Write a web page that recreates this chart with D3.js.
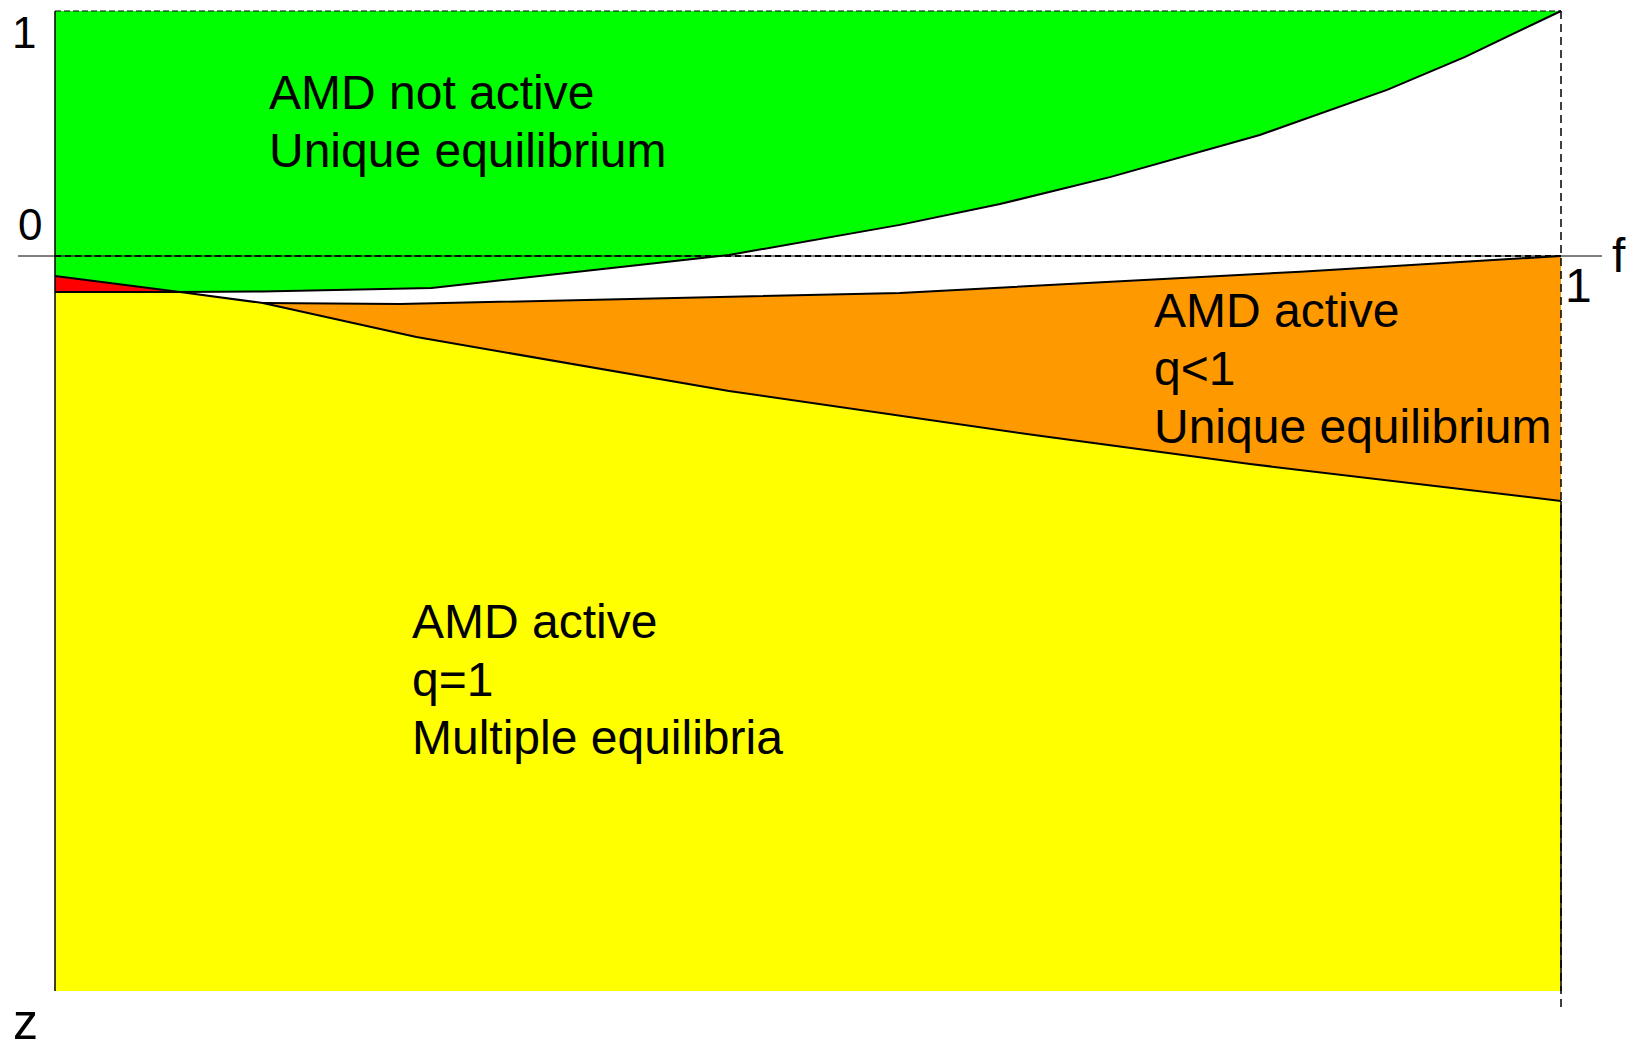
<!DOCTYPE html>
<html>
<head>
<meta charset="utf-8">
<script src="https://cdn.jsdelivr.net/npm/d3@7"></script>
<style>
  html, body { margin: 0; padding: 0; background: #ffffff; }
  svg { display: block; }
  text { font-family: "Liberation Sans", Arial, sans-serif; fill: #000; }
</style>
</head>
<body>
<svg id="chart" width="1634" height="1044"></svg>
<script>
// ---- data (f on horizontal axis, vertical value: 1 at top, 0 on the f axis, -3 at the bottom) ----
// lower boundary of the green region "AMD not active"
const greenF = [0, 0.083, 0.138, 0.250, 0.4475, 0.561, 0.6275, 0.7005, 0.800, 0.8845, 0.936, 1.0];
const greenZ = [-0.082, -0.147, -0.145, -0.131, 0.004, 0.127, 0.212, 0.322, 0.494, 0.678, 0.812, 1.0];
// boundary between yellow (below) and red / orange (above)
const yellowF = [0, 0.083, 0.138, 0.240, 0.4475, 0.655, 0.7935, 1.0];
const yellowZ = [-0.147, -0.147, -0.192, -0.331, -0.551, -0.735, -0.849, -1.0];
// upper boundary of the orange region
const orangeF = [0.138, 0.229, 0.561, 0.827, 1.0];
const orangeZ = [-0.192, -0.196, -0.151, -0.064, 0.0];
// red sliver
const redF = [0, 0.083, 0];
const redZ = [-0.082, -0.147, -0.147];

const fDomain = [0, 1];
const zDomain = [-3, 1];
const zTickLabels = ["1", "0"];
const zTickValues = [1, 0];
const fTickLabels = ["1"];
const fTickValues = [1];
const axisNames = ["f", "z"];

const greenText = ["AMD not active", "Unique equilibrium"];
const orangeText = ["AMD active", "q<1", "Unique equilibrium"];
const yellowText = ["AMD active", "q=1", "Multiple equilibria"];

// ---- layout ----
const svg = d3.select("#chart");
const x = d3.scaleLinear().domain(fDomain).range([55, 1561]);
const y = d3.scaleLinear().domain(zDomain).range([991, 11]);

const zip = (a, b) => a.map((v, i) => [v, b[i]]);
const green = zip(greenF, greenZ);
const yellowB = zip(yellowF, yellowZ);
const orangeT = zip(orangeF, orangeZ);
const red = zip(redF, redZ);

const line = d3.line().x(d => x(d[0])).y(d => y(d[1]));
const poly = pts => line(pts) + "Z";

const COL = { green: "#00ff00", red: "#ff0000", orange: "#ff9900", yellow: "#ffff00" };

// green region: top edge at z=1 then along the boundary
const greenPoly = [[fDomain[0], zDomain[1]], ...green];
svg.append("path").attr("d", poly(greenPoly)).attr("fill", COL.green);

// yellow region
const yellowPoly = [[fDomain[0], zDomain[0]], ...yellowB, [fDomain[1], zDomain[0]]];
svg.append("path").attr("d", poly(yellowPoly)).attr("fill", COL.yellow);

// orange region: top boundary then back along the yellow boundary
const startIdx = yellowF.indexOf(orangeF[0]);
const orangePoly = [...orangeT, ...yellowB.slice(startIdx).reverse()];
svg.append("path").attr("d", poly(orangePoly)).attr("fill", COL.orange);

// red sliver
svg.append("path").attr("d", poly(red)).attr("fill", COL.red);

// boundary strokes
const strokeLine = (pts, w) => svg.append("path").attr("d", line(pts))
  .attr("fill", "none").attr("stroke", "#000").attr("stroke-width", w)
  .attr("stroke-linejoin", "round");
strokeLine(green, 2);
strokeLine(yellowB, 2);
strokeLine(orangeT, 2);

// f axis: thin solid line, with dashed line over plot width
svg.append("line").attr("x1", 18).attr("x2", 1602)
  .attr("y1", y(0)).attr("y2", y(0)).attr("stroke", "#000").attr("stroke-width", 1);
svg.append("line").attr("x1", x(0)).attr("x2", x(1))
  .attr("y1", y(0)).attr("y2", y(0)).attr("stroke", "#000").attr("stroke-width", 2)
  .attr("stroke-dasharray", "6,4");
// top dashed
svg.append("line").attr("x1", x(0)).attr("x2", x(1))
  .attr("y1", y(1)).attr("y2", y(1)).attr("stroke", "#000").attr("stroke-width", 1.2)
  .attr("stroke-dasharray", "6,3");
// right dashed vertical
svg.append("line").attr("x1", x(1)).attr("x2", x(1))
  .attr("y1", y(1)).attr("y2", 1007).attr("stroke", "#000").attr("stroke-width", 1.5)
  .attr("stroke-dasharray", "8,5");
// right solid edge of the yellow region
svg.append("line").attr("x1", x(1)).attr("x2", x(1))
  .attr("y1", y(yellowZ[yellowZ.length - 1])).attr("y2", y(zDomain[0]))
  .attr("stroke", "#000").attr("stroke-width", 1.5);
// left solid axis
svg.append("line").attr("x1", x(0)).attr("x2", x(0))
  .attr("y1", y(1)).attr("y2", y(zDomain[0]))
  .attr("stroke", "#000").attr("stroke-width", 1.5);

// tick labels
const zOff = [37, -16], zX = [12, 18];
zTickValues.forEach((v, i) => {
  svg.append("text").attr("x", zX[i]).attr("y", y(v) + zOff[i])
    .attr("font-size", 44).text(zTickLabels[i]);
});
fTickValues.forEach((v, i) => {
  svg.append("text").attr("x", x(v) + 4).attr("y", y(0) + 46)
    .attr("font-size", 48).text(fTickLabels[i]);
});
svg.append("text").attr("x", 1612).attr("y", y(0) + 16).attr("font-size", 48).text(axisNames[0]);
svg.append("text").attr("x", 13).attr("y", 1039).attr("font-size", 50).text(axisNames[1]);

// region labels
function block(lines, px, py) {
  const t = svg.append("text").attr("font-size", 48);
  lines.forEach((s, i) => t.append("tspan").attr("x", px).attr("y", py + i * 58).text(s));
}
block(greenText, 269, 109);
block(orangeText, 1154, 327);
block(yellowText, 412, 638);
</script>
</body>
</html>
